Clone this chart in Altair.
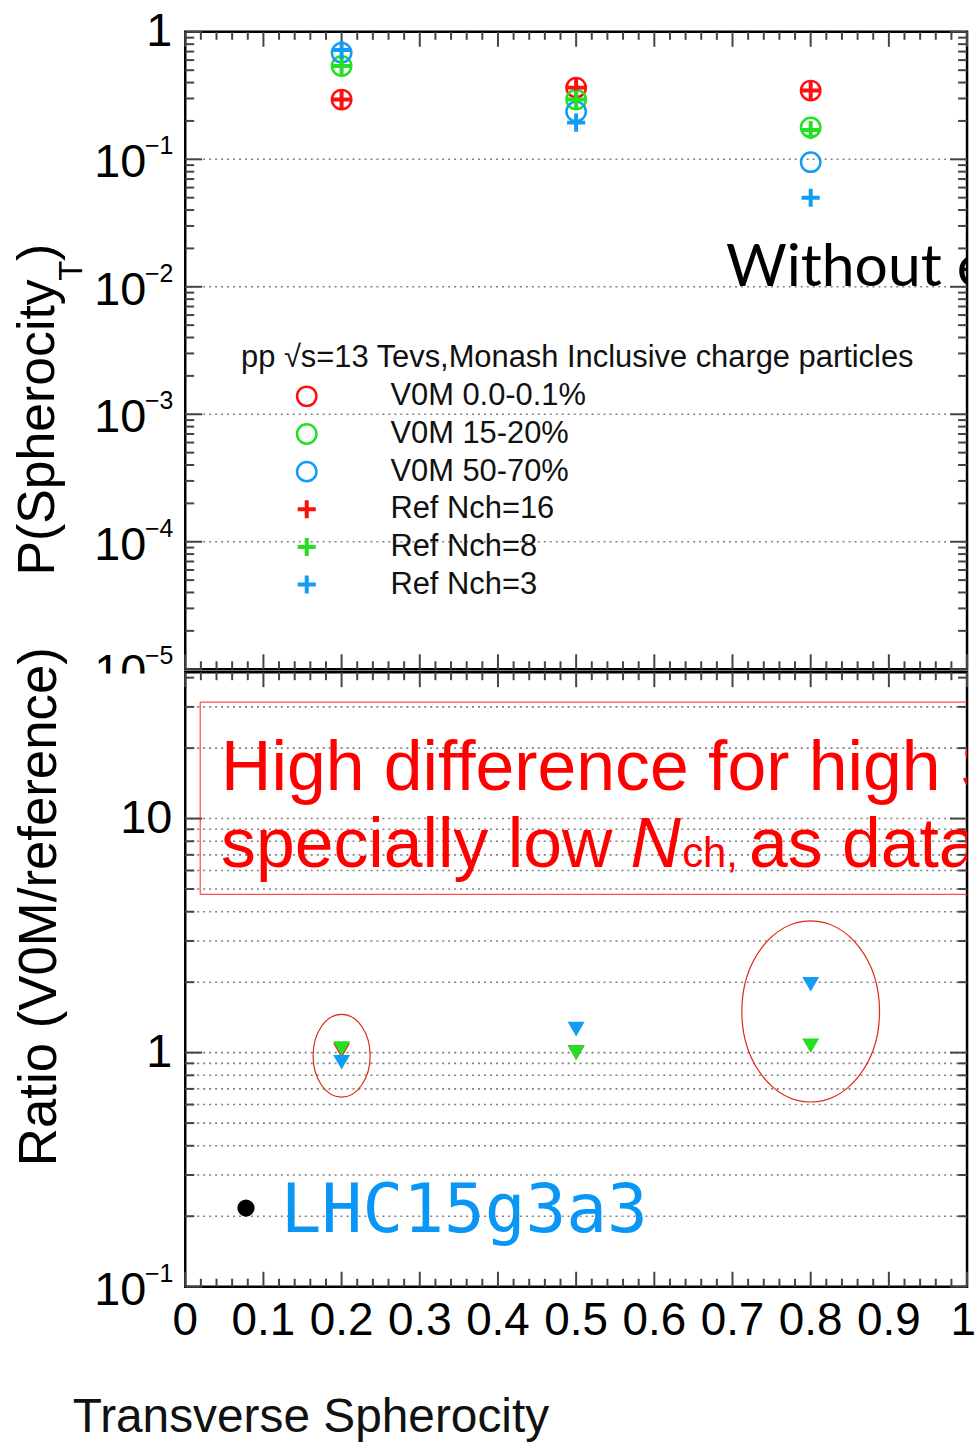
import altair as alt
import pandas as pd

# ---------------- data ----------------
SPHEROCITY = [0.2, 0.5, 0.8]
V0M_LABELS = ["V0M 0.0-0.1%", "V0M 15-20%", "V0M 50-70%"]
REF_LABELS = ["Ref Nch=16", "Ref Nch=8", "Ref Nch=3"]
V0M_VALUES = [
    [0.294, 0.365, 0.346],
    [0.54, 0.294, 0.178],
    [0.685, 0.237, 0.095],
]
REF_VALUES = [
    [0.294, 0.365, 0.346],
    [0.54, 0.294, 0.170],
    [0.72, 0.194, 0.050],
]
RATIO_VALUES = [
    [1.02, 1.0, None],
    [1.04, 1.0, 1.07],
    [0.91, 1.26, 1.96],
]
SERIES_COLORS = ["#ff1010", "#22e022", "#129cf4"]
LEGEND_TITLE = "pp √s=13 Tevs,Monash Inclusive charge particles"

TOP_YLABEL_VALUES = [1, 1e-1, 1e-2, 1e-3, 1e-4, 1e-5]
TOP_YLABEL_BASES = ["1", "10", "10", "10", "10", "10"]
TOP_YLABEL_EXPS = ["", "−1", "−2", "−3", "−4", "−5"]
BOT_YLABEL_VALUES = [0.1, 1, 10]
BOT_YLABEL_BASES = ["10", "1", "10"]
BOT_YLABEL_EXPS = ["−1", "", ""]
X_LABEL_VALUES = [0, 0.1, 0.2, 0.3, 0.4, 0.5, 0.6, 0.7, 0.8, 0.9, 1.0]
X_LABEL_TEXTS = ["0", "0.1", "0.2", "0.3", "0.4", "0.5", "0.6", "0.7", "0.8", "0.9", "1"]

ELLIPSE_X = [0.2, 0.8]
ELLIPSE_Y = [0.97, 1.5]

# ---------------- layout ----------------
W = 785
H_TOP = 640
H_BOT = 617
FONT = "Liberation Sans"

xs = alt.Scale(domain=[0, 1], nice=False, zero=False)
ys_top = alt.Scale(type="log", domain=[1e-5, 1], nice=False)
ys_bot = alt.Scale(type="log", domain=[0.1, 42.2], nice=False)
color_scale = alt.Scale(domain=V0M_LABELS, range=SERIES_COLORS)

CROSS = "M -1 0 L 1 0 M 0 -1 L 0 1"


def ellipse_path(a):
    k = 0.5523
    return (f"M {a} 0 C {a} {k} {a*k:.4f} 1 0 1 C {-a*k:.4f} 1 {-a} {k} {-a} 0 "
            f"C {-a} {-k} {-a*k:.4f} -1 0 -1 C {a*k:.4f} -1 {a} {-k} {a} 0 Z")


def note(text, x, y, **kw):
    return alt.Chart(pd.DataFrame({"t": [text]})).mark_text(**kw).encode(
        text="t:N", x=alt.value(x), y=alt.value(y))


def decade_minors(lo_exp, hi_exp):
    return [m * 10.0 ** e for e in range(lo_exp, hi_exp) for m in range(2, 10)]


def y_ticks(values, ys, length):
    df = pd.DataFrame({"v": values})
    base = alt.Chart(df).mark_rule(color="#444", strokeWidth=2)
    left = base.encode(y=alt.Y("v:Q", scale=ys, axis=None), x=alt.value(0), x2=alt.value(length))
    right = base.encode(y=alt.Y("v:Q", scale=ys, axis=None), x=alt.value(W - length), x2=alt.value(W))
    return [left, right]


def x_ticks(values, length, h):
    df = pd.DataFrame({"v": values})
    base = alt.Chart(df).mark_rule(color="#444", strokeWidth=2)
    top = base.encode(x=alt.X("v:Q", scale=xs, axis=None), y=alt.value(0), y2=alt.value(length))
    bot = base.encode(x=alt.X("v:Q", scale=xs, axis=None), y=alt.value(h - length), y2=alt.value(h))
    return [top, bot]


def grid(values, ys):
    df = pd.DataFrame({"v": values})
    return alt.Chart(df).mark_rule(color="#808080", strokeWidth=1.6, strokeDash=[2, 4]).encode(
        y=alt.Y("v:Q", scale=ys, axis=None), x=alt.value(0), x2=alt.value(W))


def y_labels(values, bases, exps, ys):
    df = pd.DataFrame({"v": values, "base": bases, "exp": exps})
    plain = alt.Chart(df).transform_filter("datum.exp == ''").mark_text(
        font=FONT, fontSize=47, align="right", baseline="middle", dy=0, color="black").encode(
        y=alt.Y("v:Q", scale=ys, axis=None), x=alt.value(-13), text="base:N")
    base = alt.Chart(df).transform_filter("datum.exp != ''").mark_text(
        font=FONT, fontSize=47, align="right", baseline="middle", dy=4, color="black").encode(
        y=alt.Y("v:Q", scale=ys, axis=None), x=alt.value(-39), text="base:N")
    exp = alt.Chart(df).transform_filter("datum.exp != ''").mark_text(
        font=FONT, fontSize=25, align="right", baseline="middle", dy=-13, color="black").encode(
        y=alt.Y("v:Q", scale=ys, axis=None), x=alt.value(-12), text="exp:N")
    return [plain, base, exp]


x_major = [i / 10 for i in range(11)]
x_minor = [i / 50 for i in range(51) if i % 5 != 0]

# invisible frame that fixes the page size
page = alt.Chart(pd.DataFrame({"a": [0]})).mark_rect(opacity=0).encode(
    x=alt.value(-184), x2=alt.value(794), y=alt.value(-27), y2=alt.value(1416))

# ---------------- top panel ----------------
top_rows = []
for i, lab in enumerate(V0M_LABELS):
    for x, v in zip(SPHEROCITY, V0M_VALUES[i]):
        top_rows.append({"x": x, "v": v, "grp": lab, "kind": "circle"})
    for x, v in zip(SPHEROCITY, REF_VALUES[i]):
        top_rows.append({"x": x, "v": v, "grp": lab, "kind": "cross"})
top_df = pd.DataFrame(top_rows)

circles = alt.Chart(top_df).transform_filter("datum.kind == 'circle'").mark_point(
    shape="circle", filled=False, size=380, strokeWidth=2.5, opacity=1).encode(
    x=alt.X("x:Q", scale=xs, axis=None), y=alt.Y("v:Q", scale=ys_top, axis=None),
    color=alt.Color("grp:N", scale=color_scale, legend=None))
crosses = alt.Chart(top_df).transform_filter("datum.kind == 'cross'").mark_point(
    shape=CROSS, filled=False, size=330, strokeWidth=4, opacity=1).encode(
    x=alt.X("x:Q", scale=xs, axis=None), y=alt.Y("v:Q", scale=ys_top, axis=None),
    color=alt.Color("grp:N", scale=color_scale, legend=None))

leg_df = pd.DataFrame({
    "label": V0M_LABELS + REF_LABELS,
    "grp": V0M_LABELS + V0M_LABELS,
    "kind": ["circle"] * 3 + ["cross"] * 3,
    "row": list(range(6)),
})
leg_base = alt.Chart(leg_df).transform_calculate(ly="366 + datum.row * 37.8")
leg_circ = leg_base.transform_filter("datum.kind == 'circle'").mark_point(
    shape="circle", filled=False, size=380, strokeWidth=2.5, opacity=1).encode(
    x=alt.value(122), y=alt.Y("ly:Q", scale=None),
    color=alt.Color("grp:N", scale=color_scale, legend=None))
leg_cross = leg_base.transform_filter("datum.kind == 'cross'").mark_point(
    shape=CROSS, filled=False, size=330, strokeWidth=4, opacity=1).encode(
    x=alt.value(122), y=alt.Y("ly:Q", scale=None),
    color=alt.Color("grp:N", scale=color_scale, legend=None))
leg_text = leg_base.mark_text(font=FONT, fontSize=31, align="left", baseline="middle",
                              color="#111").encode(
    x=alt.value(206), y=alt.Y("ly:Q", scale=None), text="label:N")
leg_title = note(LEGEND_TITLE, 56, 328, font=FONT, fontSize=31, align="left",
                 baseline="middle", color="#111")

top_layers = (
    [page, grid([1e-1, 1e-2, 1e-3, 1e-4], ys_top)]
    + y_ticks([1e-5, 1e-4, 1e-3, 1e-2, 1e-1, 1], ys_top, 17)
    + y_ticks(decade_minors(-5, 0), ys_top, 9)
    + x_ticks(x_major, 15, H_TOP)
    + x_ticks(x_minor, 8, H_TOP)
    + y_labels(TOP_YLABEL_VALUES, TOP_YLABEL_BASES, TOP_YLABEL_EXPS, ys_top)
    + [
        note("P(Spherocity", -132, 546, font=FONT, fontSize=52, angle=270, align="left",
             baseline="alphabetic", color="black"),
        note("T", -104, 250, font=FONT, fontSize=33, angle=270, align="left",
             baseline="alphabetic", color="black"),
        note(")", -132, 230, font=FONT, fontSize=52, angle=270, align="left",
             baseline="alphabetic", color="black"),
        circles, crosses,
        leg_title, leg_circ, leg_cross, leg_text,
        note("Without e", 543, 255, font="Lato", fontSize=59, align="left",
             baseline="alphabetic", color="black", clip=True),
    ]
)
top = alt.layer(*top_layers).properties(width=W, height=H_TOP)

# ---------------- bottom panel ----------------
ratio_rows = []
for i, lab in enumerate(V0M_LABELS):
    for x, r in zip(SPHEROCITY, RATIO_VALUES[i]):
        if r is not None:
            ratio_rows.append({"x": x, "r": r, "grp": lab})
ratio_df = pd.DataFrame(ratio_rows)

tri = alt.Chart(ratio_df).mark_point(shape="triangle-down", filled=True, size=290, opacity=1).encode(
    x=alt.X("x:Q", scale=xs, axis=None), y=alt.Y("r:Q", scale=ys_bot, axis=None),
    color=alt.Color("grp:N", scale=color_scale, legend=None))

ell_df = pd.DataFrame({"x": ELLIPSE_X, "y": ELLIPSE_Y})
ell_small = alt.Chart(ell_df.iloc[[0]]).mark_point(
    shape=ellipse_path(0.69), filled=False, size=6900, strokeWidth=1.2, color="#dd2a10", opacity=1).encode(
    x=alt.X("x:Q", scale=xs, axis=None), y=alt.Y("y:Q", scale=ys_bot, axis=None))
ell_big = alt.Chart(ell_df.iloc[[1]]).mark_point(
    shape=ellipse_path(0.76), filled=False, size=33100, strokeWidth=1.2, color="#dd2a10", opacity=1).encode(
    x=alt.X("x:Q", scale=xs, axis=None), y=alt.Y("y:Q", scale=ys_bot, axis=None))

x_lab_df = pd.DataFrame({"v": X_LABEL_VALUES, "t": X_LABEL_TEXTS})
x_labels_mid = alt.Chart(x_lab_df).transform_filter("datum.v < 1").mark_text(
    font=FONT, fontSize=46, baseline="middle", color="black").encode(
    x=alt.X("v:Q", scale=xs, axis=None), y=alt.value(651), text="t:N")
x_labels_end = alt.Chart(x_lab_df).transform_filter("datum.v >= 1").mark_text(
    font=FONT, fontSize=46, baseline="middle", align="right", color="black").encode(
    x=alt.value(794), y=alt.value(651), text="t:N")

cover = alt.Chart(pd.DataFrame({"a": [0]})).mark_rect(color="white").encode(
    x=alt.value(-184), x2=alt.value(-3), y=alt.value(1.3), y2=alt.value(24))

box = alt.Chart(pd.DataFrame({"a": [0]})).mark_rect(
    fill="white", fillOpacity=0, stroke="#ff2020", strokeWidth=1, clip=True).encode(
    x=alt.value(15), x2=alt.value(840), y=alt.value(30), y2=alt.value(223))

red = dict(font=FONT, color="#ff0000", align="left", baseline="alphabetic", clip=True)

bot_minor = [0.2, 0.3, 0.4, 0.5, 0.6, 0.7, 0.8, 0.9, 2, 3, 4, 5, 6, 7, 8, 9, 20, 30, 40]
bot_grid = [0.2, 0.3, 0.4, 0.5, 0.6, 0.7, 0.8, 0.9, 1, 2, 3, 4, 5, 6, 7, 8, 9, 10, 20, 30]

bot_layers = (
    [cover, grid(bot_grid, ys_bot)]
    + y_ticks([0.1, 1, 10], ys_bot, 17)
    + y_ticks(bot_minor, ys_bot, 9)
    + x_ticks(x_major, 15, H_BOT)
    + x_ticks(x_minor, 8, H_BOT)
    + y_labels(BOT_YLABEL_VALUES, BOT_YLABEL_BASES, BOT_YLABEL_EXPS, ys_bot)
    + [
        x_labels_mid, x_labels_end,
        note("Ratio (V0M/reference)", -130, 496, font=FONT, fontSize=53, angle=270,
             align="left", baseline="alphabetic", color="black"),
        note("Transverse Spherocity", -113, 763, font=FONT, fontSize=48, align="left",
             baseline="alphabetic", color="#111"),
        tri, ell_small, ell_big, box,
        note("High difference for high S", 36, 118, fontSize=70, **red),
        note("specially low ", 36, 196, fontSize=70, **red),
        note("N", 447, 196, fontSize=70, fontStyle="italic", **red),
        note("ch,", 499, 196, fontSize=42, **red),
        note("as data", 566, 196, fontSize=70, **red),
        alt.Chart(pd.DataFrame({"a": [0]})).mark_point(
            shape="circle", filled=True, size=300, color="black", opacity=1).encode(
            x=alt.value(61), y=alt.value(538)),
        note("LHC15g3a3", 96, 562, font="DejaVu Sans Mono", fontSize=68, align="left",
             baseline="alphabetic", color="#0a96f5"),
    ]
)
bot = alt.layer(*bot_layers).properties(width=W, height=H_BOT)

chart = alt.vconcat(top, bot, spacing=3, bounds="flush").properties(
    padding=0,
    background="white",
).configure_view(stroke="black", strokeWidth=2.5)

chart.save("out.html", embed_options={"renderer": "svg", "actions": False})
